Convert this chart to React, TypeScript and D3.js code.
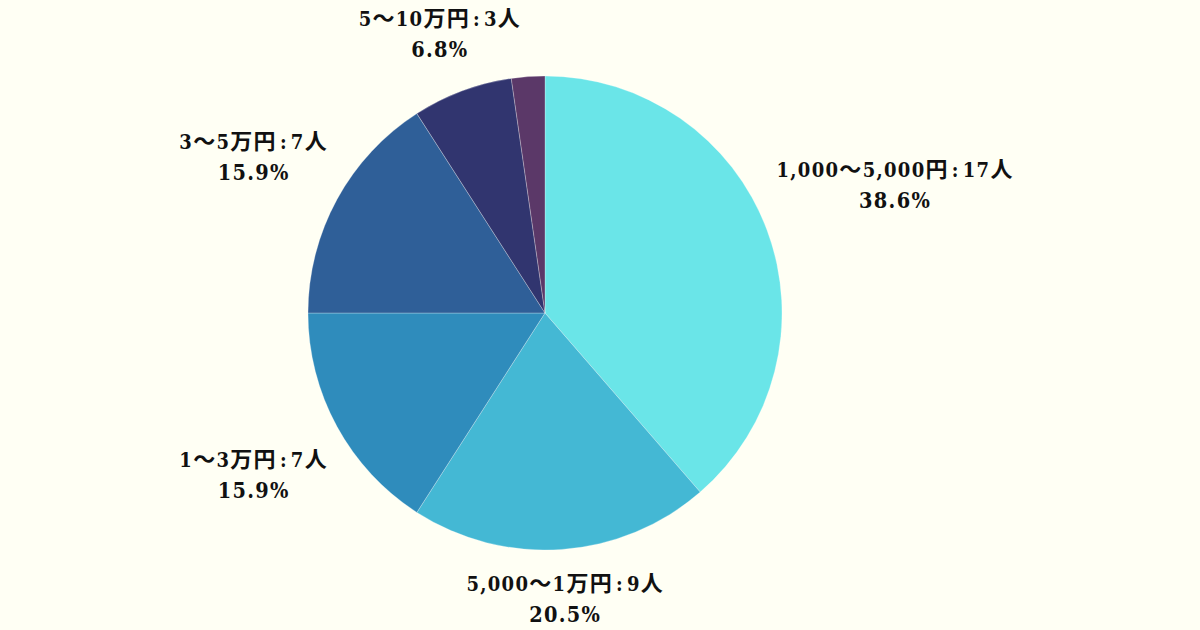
// @ts-nocheck
import React, { useEffect, useRef } from "react";
import * as d3 from "d3";

const categories = [
  "1,000〜5,000円",
  "5,000〜1万円",
  "1〜3万円",
  "3〜5万円",
  "5〜10万円",
  "10万円以上",
];
const counts = [17, 9, 7, 7, 3, 1];
const colors = ["#6ae5e8", "#44b8d4", "#2f8cbc", "#2f5f98", "#31356f", "#5b3868"];

const CJK = /([\u3000-\u30ff\u4e00-\u9fff\uff00-\uffef]+)/;

// latin and kana/kanji runs get their own size so the widths look like the original font
function addRuns(sel, str) {
  str.split(CJK).filter(s => s.length).forEach(s => {
    const t = sel.append("tspan").text(s);
    if (CJK.test(s)) t.attr("font-size", 22).attr("font-family", "'Noto Sans CJK JP', sans-serif");
  });
}

const App = () => {
  const svgRef = useRef();

  useEffect(() => {
    document.body.style.margin = "0";
    const width = 1200,
      height = 630,
      cx = 545,
      cy = 313,
      radius = 237,
      labelGap = 252;

    const svg = d3.select(svgRef.current);
    svg.selectAll("*").remove();

    svg.append("rect").attr("width", width).attr("height", height).attr("fill", "#fffff4");

    const total = d3.sum(counts);
    const data = categories.map((name, i) => ({ name, value: counts[i], color: colors[i] }));

    const pie = d3.pie().value(d => d.value).sort(null);
    const arc = d3.arc().innerRadius(0).outerRadius(radius);
    const arcs = pie(data);

    const g = svg.append("g").attr("transform", `translate(${cx},${cy})`);

    g.selectAll("path")
      .data(arcs)
      .join("path")
      .attr("d", arc)
      .attr("fill", d => d.data.color)
      .attr("stroke", "rgba(255,255,255,0.45)")
      .attr("stroke-width", 0.6);

    // labels outside, pushed out until the text box clears the label circle
    const labels = g
      .selectAll("g.label")
      .data(arcs.filter(d => d.data.value / total >= 0.05))
      .join("g")
      .attr("class", "label");

    const text = labels
      .append("text")
      .attr("text-anchor", "middle")
      .attr("font-family", "'DejaVu Serif Condensed', 'DejaVu Serif', 'Noto Sans CJK JP', serif")
      .style("font-stretch", "condensed")
      .style("letter-spacing", "1.3px")
      .attr("font-weight", "bold")
      .attr("font-size", 20)
      .attr("fill", "#111");

    text.each(function (d) {
      const t = d3.select(this);
      const first = t.append("tspan").attr("x", 0).attr("dy", "-0.3em");
      addRuns(first, d.data.name);
      first.append("tspan").attr("dx", 3).text(":");
      const rest = first.append("tspan").attr("dx", 3);
      addRuns(rest, `${d.data.value}人`);
      t.append("tspan")
        .attr("x", 0)
        .attr("dy", 31)
        .attr("font-size", 21.5)
        .text(`${((d.data.value / total) * 100).toFixed(1)}%`);
    });

    labels.each(function (d) {
      const node = d3.select(this);
      const bb = this.getBBox();
      const mid = (d.startAngle + d.endAngle) / 2;
      const vx = Math.sin(mid),
        vy = -Math.cos(mid);
      const offX = bb.x + bb.width / 2,
        offY = bb.y + bb.height / 2;
      const dist = t => {
        const bx = vx * t,
          by = vy * t;
        const dx = Math.max(Math.abs(bx) - bb.width / 2, 0);
        const dy = Math.max(Math.abs(by) - bb.height / 2, 0);
        return Math.sqrt(dx * dx + dy * dy);
      };
      let lo = 0,
        hi = 800;
      for (let k = 0; k < 40; k++) {
        const m = (lo + hi) / 2;
        if (dist(m) < labelGap) lo = m;
        else hi = m;
      }
      node.attr("transform", `translate(${vx * lo - offX},${vy * lo - offY})`);
    });
  }, []);

  return <svg ref={svgRef} width={1200} height={630} style={{ display: "block" }}></svg>;
};

export default App;
